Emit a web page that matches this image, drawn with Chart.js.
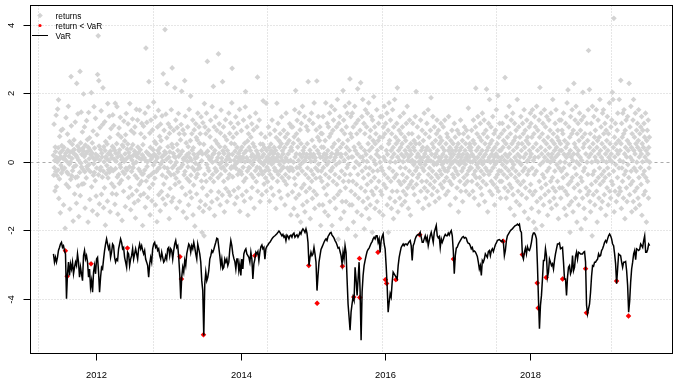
<!DOCTYPE html>
<html><head><meta charset="utf-8">
<script src="https://cdn.jsdelivr.net/npm/chart.js@4/dist/chart.umd.min.js"></script>
<style>html,body{margin:0;padding:0;background:#fff;overflow:hidden}canvas{display:block}</style>
</head><body>
<canvas id="c" width="680" height="383"></canvas>
<script>
// time span of the series (decimal years)
const startYear = 2011.405, endYear = 2019.648;

// daily returns
const returns = [
0.21,-0.37,1.12,-0.15,0.06,-0.83,0.45,0.32,-0.26,1.38,-0.71,0.14,-0.38,0.02,1.56,-0.22,0.43,1.83,-1.05,0.09,-0.48,0.76,0.28,-1.47,0.17,-0.08,0.94,-0.31,0.49,-0.16,0.35,0.97,-0.21,0.11,-1.24,0.44,0.12,-0.16,0.19,-1.92,-2.58,0.27,1.31,-0.64,0.04,-0.28,-3.32,0.83,0.36,-0.33,1.64,-0.72,0.18,-0.05,0.61,-1.36,0.30,0.01,-0.49,2.51,1.07,-0.39,0.12,0.53,-0.24,0.29,-1.71,0.36,-0.13,0.66,0.38,-0.92,0.23,1.18,-0.44,-0.09,0.21,-1.19,2.31,0.15,-0.42,0.48,1.42,-0.68,0.07,-1.58,0.34,0.39,-0.29,2.66,-0.97,0.57,-0.02,1.47,-0.13,0.24,-0.63,0.89,-0.19,0.42,
0.34,2.00,-0.62,0.18,1.04,-0.27,-1.33,0.51,0.03,0.26,-0.45,1.22,-0.12,0.31,0.67,-0.19,-1.74,0.44,1.46,-0.06,0.11,0.72,-1.08,0.36,-0.27,0.23,-2.96,2.04,-0.71,0.28,0.57,-1.41,0.15,0.92,-0.37,-0.04,1.63,-0.29,0.42,0.08,-0.53,1.29,0.24,-0.98,0.13,-0.16,0.81,-1.52,2.57,0.19,3.70,-0.36,2.39,0.48,-1.21,0.07,1.02,-0.22,0.38,-0.14,1.51,-0.93,0.27,0.16,-0.43,1.11,2.18,-0.25,-1.32,0.46,0.02,-0.74,1.19,0.35,-1.83,0.61,0.17,-0.33,0.12,-0.09,0.54,-1.13,1.72,-0.45,0.26,-0.21,0.06,1.35,-0.28,0.73,-1.44,0.33,-0.17,0.99,0.21,-0.62,0.14,-0.91,0.47,1.39,
-0.24,0.43,1.08,-0.71,0.09,0.36,-1.22,1.73,-0.18,0.27,0.04,-0.93,0.55,1.63,-0.42,0.16,-1.51,0.82,0.28,-0.35,1.01,-0.61,0.37,-0.06,1.32,-0.14,0.19,0.74,-0.52,0.08,-1.69,0.51,0.12,-0.27,0.46,-0.84,1.21,0.03,-0.33,0.63,0.25,-1.29,0.81,-0.17,1.43,0.11,-0.22,0.39,-2.50,0.54,1.13,-0.44,-1.02,0.29,0.18,-0.13,1.72,-0.73,0.16,-1.38,0.41,0.93,-0.26,0.07,-0.94,1.27,0.52,-0.15,0.21,-0.04,0.86,-1.18,0.33,1.04,-0.38,-1.62,0.24,0.01,1.55,-0.82,0.17,-0.46,1.24,0.45,-1.11,0.28,-0.19,0.13,-0.64,1.53,-0.25,0.37,-0.96,0.84,0.09,-0.55,1.14,-0.34,0.22,-1.84,
0.52,-0.33,1.06,-0.91,0.14,0.73,-0.22,1.44,-1.31,0.06,3.34,-0.54,0.31,1.17,-0.12,0.02,-1.02,0.26,1.62,-0.41,2.36,0.22,-0.74,0.86,-1.53,0.44,0.08,1.24,-0.35,0.18,-1.12,0.15,0.95,-0.63,0.37,-0.07,1.76,-0.28,0.24,0.61,-0.46,1.33,-1.24,0.03,0.55,-0.26,0.17,-1.73,0.13,1.04,0.35,-0.18,1.52,-0.94,0.27,-0.16,0.76,0.43,-1.41,1.12,-0.05,0.64,-0.85,0.16,1.36,-0.37,0.04,-1.06,2.59,0.21,-0.63,0.94,-0.14,0.32,3.88,-1.22,0.26,1.41,-0.44,0.09,0.72,2.30,-0.17,-0.97,0.46,1.13,-0.28,0.15,-1.64,0.85,0.31,-0.76,1.03,0.02,-0.36,1.54,-1.14,0.53,2.76,-0.15,
0.44,-1.03,0.26,0.94,-0.35,0.17,-0.08,2.18,-0.64,0.15,1.24,-0.46,0.01,-1.33,0.53,1.02,-0.27,0.35,-0.19,1.43,0.18,-0.57,0.84,-1.14,-2.75,0.24,0.66,-0.14,1.11,-3.40,2.08,-0.73,0.33,-0.06,0.95,-1.44,0.12,0.07,-0.36,0.83,2.39,-0.26,1.35,-0.94,0.16,0.57,-1.62,0.22,-0.47,0.03,1.04,-0.13,0.46,-1.24,0.27,1.55,-0.55,0.14,-0.86,0.64,1.94,-0.37,0.06,-1.03,0.84,0.36,-0.15,1.24,-1.53,0.43,-0.66,0.24,0.95,-0.23,-1.86,0.12,-0.02,1.13,-0.44,0.73,-0.92,0.15,0.66,-0.34,1.44,-0.18,0.26,-0.07,1.04,-1.32,0.56,-0.16,0.84,-1.13,0.33,1.33,-0.54,0.05,-2.04,0.25,
-0.74,1.16,-1.43,-5.03,0.53,-2.14,1.72,-0.35,1.04,-1.24,0.26,0.84,-0.55,1.44,-0.06,-0.96,2.95,0.33,-0.16,0.17,0.94,-0.24,0.15,-1.34,0.08,0.75,-0.46,1.23,-0.84,0.14,0.44,-1.15,1.63,0.01,-0.35,0.24,2.22,-0.56,0.27,1.04,-1.55,0.35,-0.17,0.64,1.33,-0.26,0.05,-0.24,0.94,-1.06,0.55,0.14,-0.44,3.17,-0.86,0.26,1.13,-0.05,0.46,-1.24,0.86,-0.35,1.53,-0.16,0.13,0.02,-0.95,2.36,0.34,-0.14,1.04,-0.55,0.26,-1.44,0.76,0.45,-0.24,1.25,-0.76,0.07,-0.06,0.66,-1.14,0.35,0.17,-0.46,0.13,-0.86,1.44,0.24,-0.35,0.85,-0.96,0.06,1.15,-0.17,0.56,-0.13,1.74,2.75,
0.24,-0.42,0.74,-0.13,1.02,-0.82,0.06,0.54,-1.21,0.33,-0.05,1.33,-0.17,0.16,0.85,-1.02,0.44,0.01,-0.35,1.14,-0.74,0.26,0.12,-0.24,1.55,-1.43,0.15,0.36,-0.26,0.05,0.93,-0.34,0.45,-0.95,0.16,0.13,-0.14,1.24,-0.55,0.27,-1.13,0.56,0.02,1.62,2.07,-0.46,0.34,-0.84,0.14,1.04,-0.25,0.63,-1.54,0.06,0.84,-0.15,0.44,-0.16,1.33,0.03,0.35,-1.04,0.74,-0.35,0.17,1.13,-0.73,0.24,-0.06,0.55,-0.44,0.95,0.07,-1.33,0.46,-2.72,0.16,-0.24,1.44,0.15,-0.56,0.34,1.04,-0.14,2.49,-0.84,0.25,0.17,-0.35,0.06,1.24,-0.16,0.14,-1.14,0.54,0.01,0.84,-0.25,0.35,-0.94,
0.16,-0.34,0.53,1.80,-0.06,0.24,-0.63,0.44,0.02,-0.25,0.74,-0.45,0.07,1.73,-0.84,0.35,-0.14,0.16,-0.56,0.13,0.01,1.04,-0.23,0.44,-1.13,0.25,0.83,-0.35,0.06,0.54,-0.74,0.34,-0.05,1.24,0.14,-0.45,0.15,-0.95,0.26,0.02,0.44,-0.16,0.94,-0.24,0.07,0.35,-1.34,0.73,-0.25,1.73,0.15,-0.55,0.24,1.14,-0.35,0.03,0.64,-0.84,0.45,-0.06,0.84,-0.24,0.16,-1.04,0.55,1.33,-0.44,0.06,0.34,-0.15,0.25,-0.14,0.94,0.01,-0.54,0.44,-1.24,0.74,-0.35,0.14,1.44,-0.64,0.07,0.55,-0.16,0.84,-0.95,0.25,0.03,-0.44,0.64,-0.24,1.13,-0.15,0.35,0.06,-1.53,0.44,1.04,-0.16,
0.35,-0.86,1.04,-0.24,0.56,0.01,-1.34,0.75,-0.46,1.54,0.16,-0.65,2.10,-1.04,0.25,0.84,-0.15,1.23,-1.55,0.45,-0.34,0.66,0.06,-0.94,1.45,-0.15,0.24,0.95,-0.06,-1.74,0.55,1.14,-0.74,0.15,-0.25,1.64,-1.24,0.35,0.02,0.26,-0.64,0.44,1.34,-1.44,0.06,-0.35,0.15,-0.85,1.05,0.24,-1.14,0.55,-0.16,0.94,2.36,-0.45,-3.01,0.14,1.24,-0.75,0.36,-1.64,0.25,0.03,-0.24,1.44,-0.55,0.65,-1.05,0.16,1.14,-0.35,0.24,-0.84,1.74,0.46,-1.34,0.05,0.14,-0.16,-0.46,0.95,-0.94,2.38,-4.11,0.35,0.74,-0.24,1.34,-0.05,0.26,-1.24,0.64,1.04,-0.44,0.15,-1.84,0.85,-0.25,0.45,
-0.55,0.84,0.16,-1.24,1.34,-0.15,0.44,-0.74,0.25,0.06,-1.44,0.64,-0.35,1.74,0.24,-0.94,0.14,-0.06,1.14,-0.65,0.35,-1.55,1.04,0.02,-0.44,0.75,1.44,-1.14,0.16,-0.24,0.84,-0.24,1.64,0.26,-1.84,0.45,-0.15,0.94,-0.55,1.24,0.06,-1.04,0.55,1.54,-0.35,0.15,-1.34,0.24,-0.06,1.04,-0.64,0.35,1.84,-0.94,0.26,-2.24,0.65,1.14,-0.44,0.01,1.34,-0.84,0.44,-1.64,0.24,0.16,-0.25,0.94,-1.14,-3.03,0.55,2.10,-0.55,1.24,-1.44,0.06,0.84,-0.35,1.64,-0.74,0.25,-1.14,1.04,0.44,-0.15,1.44,-1.94,0.65,-0.06,0.14,-0.55,1.74,0.35,-1.24,2.44,-0.35,0.84,1.34,-0.84,0.16,
0.74,-1.24,1.44,0.16,-0.55,1.04,-1.74,-3.93,0.45,-0.15,1.64,-0.94,0.35,-2.14,1.14,0.02,-0.64,0.84,-1.44,0.25,2.15,-0.35,1.24,-1.04,0.55,-0.06,-2.80,-3.94,0.94,0.16,2.33,-0.74,0.44,-1.54,1.34,-0.25,0.16,1.84,-1.14,0.05,-0.45,1.14,-1.94,0.35,0.84,-0.84,1.54,-0.15,0.24,-1.34,1.04,0.03,-0.64,1.44,-1.04,0.55,-0.35,1.74,-1.64,0.35,-0.16,0.74,-1.24,0.94,0.15,-0.55,1.34,-0.84,0.44,-2.04,1.24,-0.25,0.64,-0.94,1.92,0.06,-0.44,1.04,-1.34,0.55,-0.05,0.84,-0.74,0.24,1.54,-1.14,0.35,-0.24,-2.62,0.64,1.14,-0.55,0.16,-1.44,0.74,0.01,1.34,-0.84,0.44,-0.15,
0.44,-0.94,1.34,-0.24,0.74,-1.54,1.04,0.15,-0.64,1.64,-0.35,0.84,0.06,-3.42,1.14,-0.74,0.35,-3.53,1.44,-1.24,0.24,-0.45,0.94,-2.04,0.55,1.74,-0.16,0.64,-1.04,0.02,1.24,-0.55,0.35,-1.34,0.84,0.15,-0.84,1.54,-0.25,0.44,-1.64,1.04,0.25,-0.44,1.84,-1.14,0.01,0.74,-3.42,0.55,-0.35,1.14,-0.84,2.18,0.16,-1.44,0.64,0.35,-0.55,0.94,0.06,-1.04,1.34,-0.15,0.44,-0.64,0.84,0.24,-1.24,0.55,1.04,-0.35,0.02,-0.84,1.44,0.16,-0.55,0.74,-1.14,0.35,-0.16,0.64,-0.94,1.14,0.25,-0.44,1.64,-0.74,0.06,0.45,-1.34,0.84,0.16,-0.25,1.24,-0.64,0.35,-1.54,0.55,0.03,
0.24,-0.55,0.84,0.06,-0.35,1.14,-0.74,0.44,-0.06,0.64,-0.94,0.35,0.01,1.34,-0.24,0.55,2.07,-0.64,0.16,-0.15,1.04,-0.44,0.25,-1.14,0.74,0.02,-0.35,0.55,-2.11,0.15,-0.05,1.24,-0.84,0.35,0.06,-0.55,0.94,-0.16,0.44,-1.34,0.64,0.16,-0.24,1.44,-0.74,0.25,-0.06,0.84,-1.04,0.35,0.03,-0.55,1.14,0.44,-0.84,0.15,1.54,-0.35,0.06,-1.24,0.74,-0.16,0.35,-0.64,0.94,0.05,1.89,-0.44,0.24,-0.94,0.55,-0.25,1.34,0.01,-0.74,0.44,-0.06,1.04,-0.55,0.16,-1.14,0.64,0.25,-0.35,0.84,-0.05,1.24,-0.84,0.35,0.02,-0.44,0.94,0.15,-1.04,0.55,-0.24,0.74,0.06,-0.64,1.14,
0.15,-0.35,0.64,-0.06,0.44,-0.74,0.24,1.04,-0.16,0.01,-0.55,0.35,1.24,-0.24,0.06,-0.94,0.55,0.16,-0.44,0.84,0.02,-0.25,0.74,-0.84,0.35,1.34,-0.15,0.06,-0.55,0.44,-1.24,0.25,0.64,-0.05,0.15,-0.64,0.94,0.35,-0.35,0.01,0.55,-2.82,0.24,-0.44,1.14,-0.16,0.06,0.74,-1.04,0.35,-0.25,0.44,0.02,-0.74,0.94,0.16,-0.35,0.55,-1.44,0.24,0.84,-0.06,0.35,-0.55,0.05,1.24,-0.84,0.15,0.44,-0.25,0.01,0.64,-1.14,0.24,-0.16,0.84,-0.44,0.06,1.04,-0.64,0.35,-0.05,0.55,-0.84,0.15,0.94,-0.35,0.24,-0.55,0.06,0.74,1.59,-0.24,0.44,-0.94,0.16,0.55,-0.15,0.02,0.35,
0.44,-0.16,0.94,-0.55,0.24,0.02,-0.84,0.64,1.24,-0.35,0.16,-1.04,0.55,0.06,-0.25,1.04,2.17,-0.44,0.35,-0.06,0.84,-0.64,0.15,1.34,-0.15,0.44,-1.24,0.01,0.74,-0.44,0.25,1.14,-0.74,0.06,-0.25,0.64,-0.94,0.35,1.44,-0.05,-0.55,0.16,0.84,-0.35,1.24,0.03,-1.14,0.55,0.24,-0.16,0.94,-0.64,2.14,0.35,-0.24,0.74,-1.44,0.06,0.44,1.14,-0.35,0.15,1.84,-0.84,0.55,0.01,-0.25,1.04,-0.55,0.24,0.64,-0.94,0.35,1.34,-0.15,0.06,-0.64,0.84,0.16,-1.24,0.44,-0.05,0.94,-0.44,0.25,1.54,-0.74,0.02,0.55,-0.35,1.95,0.16,-0.84,0.74,-0.24,0.35,1.14,-0.55,0.06,-1.04,
0.35,-0.25,0.84,-0.55,0.16,1.14,-0.06,0.44,-2.30,0.64,-0.35,0.94,0.06,-0.74,2.48,0.24,-0.15,0.55,-1.04,1.34,0.01,-0.44,0.74,0.16,-0.84,1.04,-0.24,0.44,1.64,-0.64,0.25,-1.34,0.84,0.06,-0.35,1.24,-0.74,0.55,0.02,-0.16,1.44,-0.94,0.35,-0.06,0.64,-1.54,1.14,0.15,-0.44,0.74,-0.25,0.94,-1.14,0.44,0.05,1.84,-0.55,0.24,-0.84,0.55,1.04,-0.35,0.01,-1.24,0.74,0.16,-0.64,1.34,-0.06,0.35,-0.94,0.55,-2.69,1.14,-0.25,0.84,-0.55,0.15,1.54,-1.44,0.44,-0.16,0.94,-0.74,0.25,0.64,-1.04,1.24,0.03,-0.35,0.74,0.06,-1.64,0.55,-0.24,1.04,0.35,-0.84,0.16,1.44,
-0.64,1.14,0.25,-1.34,0.74,-0.16,1.54,-0.94,0.44,0.06,-1.74,0.84,-0.35,1.34,0.15,-0.84,1.04,-1.94,0.55,-0.25,1.64,-1.14,-3.52,0.35,0.94,-4.25,0.16,-1.44,1.24,-0.55,0.74,2.19,-0.06,-1.04,0.44,1.44,-0.74,0.25,-1.84,0.84,-0.35,1.14,0.02,-1.24,0.64,-0.44,1.54,0.15,-0.94,0.35,1.04,-0.64,-3.36,0.55,1.34,-0.25,0.06,-1.54,0.74,0.24,-0.84,1.24,-0.16,0.44,-1.14,0.94,0.01,-0.55,1.44,0.15,-1.34,0.64,0.25,-0.44,1.84,-0.74,0.84,0.06,-1.04,0.55,0.35,-0.25,1.14,-0.84,0.16,1.54,-1.24,0.44,-0.06,0.74,-0.55,0.94,0.24,-1.64,0.64,-0.16,1.24,-0.74,0.35,0.02,
0.55,-1.04,1.24,-0.25,0.35,0.94,-0.74,-3.40,0.84,-0.44,1.44,-0.16,0.24,-1.34,0.64,0.01,-0.84,1.14,0.44,-1.54,0.15,-0.35,1.74,-0.94,0.55,2.12,-0.64,0.25,1.04,-1.24,-0.06,0.74,-2.04,0.35,1.34,-0.55,0.16,-1.14,0.84,1.54,-0.44,0.06,-1.44,0.94,0.25,2.31,-0.74,0.55,-0.16,1.24,-1.04,0.44,1.64,-0.35,0.02,-1.74,0.84,0.24,-0.64,1.14,0.35,-1.24,0.64,-0.06,1.44,-0.84,0.15,0.94,-0.44,-1.94,1.24,0.06,-0.55,0.74,-1.04,2.05,0.44,-0.25,1.34,-1.34,0.55,-0.16,0.84,-1.64,-3.10,0.25,-0.74,-4.39,1.14,0.01,-0.94,0.64,-0.35,1.54,3.27,0.16,-0.84,2.13,0.44,-1.14,
0.84,-1.44,0.25,1.14,-0.64,0.01,-2.14,1.64,-0.35,0.55,-0.94,0.35,1.34,-0.25,0.74,-1.24,0.16,0.94,-0.55,0.06,1.54,-0.84,0.44,-1.74,0.64,0.02,1.24,-0.44,0.25,-1.04,0.74,-0.16,1.84,-0.64,0.35,-1.34,1.04,0.15,-0.35,0.55,-1.14,1.44,0.06,-0.55,1.54,0.84,-0.25,-0.94,0.44,1.14,-0.44,0.25,-1.54,0.94,0.01,0.64,-0.74,1.34,-0.16,0.35,-1.24,0.84,0.15,-0.35,1.74,-0.84,0.55,0.06,-1.04,1.04,0.25,-0.55,1.24,0.02,2.05,-0.64,1.84,0.44,-0.25,4.21,-1.44,0.74,0.16,-0.84,1.14,-0.06,0.55,-1.14,-3.46,0.35,0.94,-0.44,1.44,0.25,-0.94,0.64,-0.16,1.84,-0.74,0.06,
0.35,-0.84,2.40,0.55,-1.34,1.14,-0.16,0.74,-0.55,1.44,0.02,-1.04,0.84,1.54,-0.35,0.25,-1.64,0.94,0.44,-0.25,1.24,-0.74,0.16,-1.14,0.64,1.34,-0.06,0.35,-4.48,-0.44,2.31,0.55,-0.94,1.04,0.15,-0.64,1.64,-0.25,0.44,-1.44,0.84,0.06,-0.55,1.24,-1.14,1.84,0.35,-0.16,0.74,-0.84,0.25,1.44,-1.34,0.55,-0.25,0.94,0.01,-0.74,1.14,0.44,-1.04,0.64,1.54,-0.44,0.16,-1.24,0.84,0.35,-0.15,1.04,-0.64,0.25,1.34,-1.54,0.55,0.02,0.94,-0.35,0.44,-0.94,1.14,-0.25,0.74,0.16,-0.84,1.44,-0.44,0.35,-1.74,0.64,0.06,0.94,-0.55,0.25,1.24,-1.04,0.44,-0.16,0.74,0.01
];

// indices of returns that fell below VaR
const exceedIdx = [40,46,126,248,424,429,503,675,856,884,969,1007,1026,1027,1088,1113,1117,1148,1228,1341,1508,1572,1622,1625,1652,1707,1784,1787,1888,1928];

// Value at Risk series
const VaR = [
-2.67,-2.91,-2.77,-2.91,-2.77,-2.57,-2.48,-2.38,-2.33,-2.48,-2.43,-2.57,-2.67,-3.98,-3.25,-2.91,-3.30,-2.96,-3.11,-2.91,-3.25,-3.06,-2.91,-3.01,-2.67,-2.91,-3.35,-3.06,-3.25,-3.45,-2.72,-2.57,-2.82,-2.72,-2.91,-3.35,-3.11,-3.64,-3.45,-3.79,-3.20,-3.01,-3.25,-2.82,-2.77,-3.20,-3.79,-3.35,-3.06,-3.11,-2.82,-2.57,-2.38,-2.23,-2.38,-2.52,-2.43,-2.77,-2.62,-2.38,-2.43,-2.77,-2.91,-2.82,-2.86,-2.52,-2.38,-2.23,-2.33,-2.52,-2.48,-2.77,-2.91,-3.06,-2.62,-2.67,-3.01,-2.82,-2.72,-2.52,-2.82,-2.67,-2.52,-2.67,-2.82,-2.52,-2.38,-2.52,-2.43,-2.57,-2.67,-2.57,-2.82,-2.91,-3.01,-3.35,-2.96,-2.77,-2.91,-2.52,-2.38,-2.33,-2.48,-2.43,-2.57,-2.52,-2.72,-2.82,-2.62,-2.77,-2.91,-2.86,-2.72,-2.82,-2.52,-2.48,-2.72,-2.52,-2.57,-2.82,-2.57,-2.38,-2.28,-2.48,-2.43,-2.77,-3.25,-3.98,-3.35,-3.06,-3.20,-2.86,-3.01,-2.67,-2.52,-2.38,-2.43,-2.62,-2.43,-2.52,-2.33,-2.48,-2.67,-2.82,-2.38,-2.52,-2.67,-2.91,-3.45,-3.74,-5.05,
-3.54,-3.20,-3.45,-3.35,-3.16,-2.82,-2.72,-2.57,-2.62,-2.54,-2.43,-2.33,-2.21,-2.23,-2.48,-2.72,-3.01,-2.82,-3.11,-3.06,-2.82,-2.91,-2.82,-3.01,-2.91,-2.52,-2.28,-2.43,-2.67,-2.80,-2.89,-3.11,-2.82,-2.82,-3.16,-2.96,-3.30,-2.82,-3.11,-2.67,-2.57,-2.52,-2.67,-2.72,-2.77,-2.91,-2.62,-2.82,-3.40,-2.96,-2.82,-2.62,-2.67,-2.60,-2.86,-2.62,-2.46,-2.41,-2.52,-2.48,-2.82,-2.52,-2.45,-2.41,-2.36,-2.33,-2.28,-2.23,-2.19,-2.16,-2.14,-2.11,-2.08,-2.04,-2.00,-2.04,-2.09,-2.14,-2.10,-2.18,-2.14,-2.28,-2.12,-2.16,-2.23,-2.14,-2.12,-2.18,-2.09,-2.06,-2.18,-2.14,-2.11,-2.18,-2.12,-2.04,-2.09,-1.99,-1.94,-1.98,-2.04,-1.94,-2.06,-2.33,-3.01,-2.77,-2.62,-2.72,-2.67,-2.48,-2.67,-2.91,-3.74,-3.30,-2.91,-2.72,-2.54,-2.47,-2.40,-2.33,-2.27,-2.23,-2.28,-2.16,-2.11,-2.06,-2.04,-2.12,-2.16,-2.21,-2.28,-2.33,-2.41,-2.50,-2.48,-2.60,-2.72,-2.96,-2.62,-2.82,-2.43,-2.62,-3.40,-4.13,-4.51,-4.90,-4.37,-4.13,-3.93,-4.03,
-3.06,-3.40,-3.88,-3.40,-2.91,-3.74,-5.19,-3.79,-3.30,-3.01,-2.86,-2.72,-2.60,-2.54,-2.50,-2.43,-2.36,-2.31,-2.23,-2.18,-2.23,-2.14,-2.14,-2.33,-2.23,-2.62,-2.28,-2.16,-2.09,-2.38,-2.52,-3.01,-3.59,-4.37,-4.08,-3.83,-3.93,-3.50,-3.20,-3.25,-3.30,-3.35,-3.40,-3.01,-2.77,-2.62,-2.48,-2.43,-2.38,-2.43,-2.38,-2.38,-2.41,-2.36,-2.31,-2.28,-2.43,-2.86,-2.43,-2.35,-2.23,-2.16,-2.12,-2.10,-2.12,-2.04,-2.18,-2.33,-2.33,-2.23,-2.14,-2.28,-2.18,-2.43,-2.28,-2.14,-2.04,-2.18,-2.33,-2.04,-1.94,-1.84,-2.14,-2.20,-2.16,-2.48,-2.23,-2.33,-2.25,-2.16,-2.10,-2.14,-2.14,-2.06,-2.12,-2.04,-1.99,-2.14,-2.57,-3.25,-2.72,-2.50,-2.47,-2.39,-2.33,-2.28,-2.23,-2.18,-2.16,-2.21,-2.19,-2.21,-2.31,-2.36,-2.37,-2.43,-2.52,-2.48,-2.60,-2.58,-2.61,-2.67,-2.74,-2.91,-3.11,-3.01,-3.30,-2.86,-2.91,-2.82,-2.67,-2.72,-2.77,-2.60,-2.57,-2.72,-2.57,-2.52,-2.60,-2.50,-2.40,-2.35,-2.28,-2.26,-2.25,-2.28,-2.31,-2.27,-2.33,-2.72,
-2.57,-2.28,-2.14,-2.09,-2.04,-1.99,-1.96,-1.94,-1.90,-1.87,-1.84,-1.83,-1.80,-1.83,-1.80,-1.99,-2.04,-2.72,-2.82,-2.62,-2.50,-2.67,-2.46,-2.55,-2.57,-2.48,-2.33,-2.14,-2.06,-2.06,-2.12,-2.23,-3.01,-3.98,-4.85,-4.17,-3.88,-3.40,-2.86,-2.86,-2.52,-2.72,-3.35,-3.20,-2.82,-2.91,-3.01,-2.96,-3.11,-2.86,-2.67,-2.52,-2.38,-2.38,-2.35,-2.52,-2.50,-2.48,-2.91,-3.40,-3.40,-3.88,-3.35,-3.06,-3.01,-3.25,-3.16,-2.72,-3.16,-3.06,-2.74,-2.62,-2.82,-2.62,-2.64,-2.67,-2.67,-2.67,-2.62,-2.60,-2.91,-4.17,-4.42,-4.27,-4.13,-3.79,-3.32,-3.01,-3.03,-2.91,-2.91,-2.86,-2.82,-2.67,-2.74,-2.72,-2.57,-2.52,-2.43,-2.33,-2.28,-2.33,-2.23,-2.14,-2.09,-2.14,-2.23,-2.38,-2.43,-2.67,-2.96,-3.54,-3.11,-2.67,-2.70,-2.72,-2.91,-3.06,-2.91,-2.91,-2.89,-3.16,-3.59,-4.37,-4.06,-3.50,-3.11,-2.91,-2.67,-2.57,-2.84,-2.52,-2.54,-2.57,-2.54,-2.38,-2.43,-2.48,-2.28,-2.14,-2.62,-2.62,-2.54,-2.38,-2.43
];

// axis ticks
const yTicks = [-4, -2, 0, 2, 4];
const yTickLabels = ['-4', '-2', '0', '2', '4'];
const xTickYears = [2012, 2014, 2016, 2018];
const xTickLabels = ['2012', '2014', '2016', '2018'];
const xGridYears = [2011.2, 2012.783, 2014.367, 2015.95, 2017.533, 2019.117];

const legendLabels = ['returns', 'return < VaR', 'VaR'];

function timeAt(i, n) { return startYear + (endYear - startYear) * i / (n - 1); }
const returnPts = returns.map((v, i) => ({ x: timeAt(i, returns.length), y: v }));
const varPts = VaR.map((v, i) => ({ x: timeAt(i, VaR.length), y: v }));
const exceedPts = exceedIdx.map(i => returnPts[i]);

const GRAY = '#D3D3D3';
const FONT = '"Liberation Sans", Arial, Helvetica, sans-serif';

const rPlot = {
  id: 'rPlot',
  beforeDatasetsDraw(chart) {
    const { ctx, chartArea: a, scales: { x, y } } = chart;
    ctx.save();
    ctx.lineWidth = 1;
    ctx.strokeStyle = '#CCCCCC';
    ctx.setLineDash([1, 2]);
    xGridYears.forEach(v => {
      const px = Math.floor(x.getPixelForValue(v)) + 0.5;
      ctx.beginPath(); ctx.moveTo(px, a.top); ctx.lineTo(px, a.bottom); ctx.stroke();
    });
    yTicks.forEach(v => {
      if (v === 0) return;
      const py = Math.floor(y.getPixelForValue(v)) + 0.5;
      ctx.beginPath(); ctx.moveTo(a.left, py); ctx.lineTo(a.right, py); ctx.stroke();
    });
    ctx.strokeStyle = '#AAAAAA';
    ctx.setLineDash([3, 3]);
    const p0 = Math.floor(y.getPixelForValue(0)) + 0.5;
    ctx.beginPath(); ctx.moveTo(a.left, p0); ctx.lineTo(a.right, p0); ctx.stroke();
    ctx.restore();
  },
  afterDatasetsDraw(chart) {
    const { ctx, chartArea: a, scales: { x, y } } = chart;
    ctx.save();
    ctx.setLineDash([]);
    ctx.strokeStyle = '#000';
    ctx.lineWidth = 1;
    ctx.strokeRect(a.left, a.top, a.right - a.left, a.bottom - a.top);
    ctx.fillStyle = '#000';
    ctx.font = '9.4px ' + FONT;
    ctx.textAlign = 'center';
    ctx.textBaseline = 'alphabetic';
    xTickYears.forEach((v, i) => {
      const px = Math.floor(x.getPixelForValue(v)) + 0.5;
      ctx.beginPath(); ctx.moveTo(px, a.bottom); ctx.lineTo(px, a.bottom + 7); ctx.stroke();
      ctx.fillText(xTickLabels[i], px, a.bottom + 24);
    });
    yTicks.forEach((v, i) => {
      const py = Math.floor(y.getPixelForValue(v)) + 0.5;
      ctx.beginPath(); ctx.moveTo(a.left, py); ctx.lineTo(a.left - 7, py); ctx.stroke();
      ctx.save();
      ctx.translate(14, py);
      ctx.rotate(-Math.PI / 2);
      ctx.fillText(yTickLabels[i], 0, 0);
      ctx.restore();
    });
    // legend
    ctx.font = '8.3px ' + FONT;
    ctx.textAlign = 'left';
    const lx = 40, tx = 55.5;
    const ly = [15.5, 25.5, 35.5];
    ctx.fillStyle = GRAY;
    ctx.beginPath();
    ctx.moveTo(lx - 2.8, ly[0]); ctx.lineTo(lx, ly[0] - 2.8); ctx.lineTo(lx + 2.8, ly[0]); ctx.lineTo(lx, ly[0] + 2.8); ctx.closePath(); ctx.fill();
    ctx.fillStyle = '#FF0000';
    ctx.beginPath(); ctx.arc(lx, ly[1], 1.6, 0, Math.PI * 2); ctx.fill();
    ctx.strokeStyle = '#000';
    ctx.beginPath(); ctx.moveTo(32, ly[2]); ctx.lineTo(48, ly[2]); ctx.stroke();
    ctx.fillStyle = '#000';
    legendLabels.forEach((t, i) => ctx.fillText(t, tx, ly[i] + 3));
    ctx.restore();
  }
};

new Chart(document.getElementById('c'), {
  type: 'scatter',
  data: {
    datasets: [
      { label: 'returns', data: returnPts, pointStyle: 'rectRot', pointRadius: 2.85, pointBorderWidth: 0, backgroundColor: GRAY, borderColor: GRAY, order: 3 },
      { label: 'return < VaR', data: exceedPts, pointStyle: 'rectRot', pointRadius: 2.7, pointBorderWidth: 0, backgroundColor: '#FF0000', borderColor: '#FF0000', order: 2 },
      { label: 'VaR', type: 'line', data: varPts, borderColor: '#000', borderWidth: 1.5, pointRadius: 0, tension: 0, fill: false, order: 1 }
    ]
  },
  options: {
    responsive: false,
    animation: false,
    devicePixelRatio: 1,
    layout: { padding: { left: 30.5, top: 5.5, right: 7.5, bottom: 29.5 } },
    plugins: { legend: { display: false }, tooltip: { enabled: false } },
    events: [],
    scales: {
      x: { type: 'linear', min: 2011.0875, max: 2019.9635, display: false },
      y: { type: 'linear', min: -5.577, max: 4.584, display: false }
    }
  },
  plugins: [rPlot]
});
</script>
</body></html>
